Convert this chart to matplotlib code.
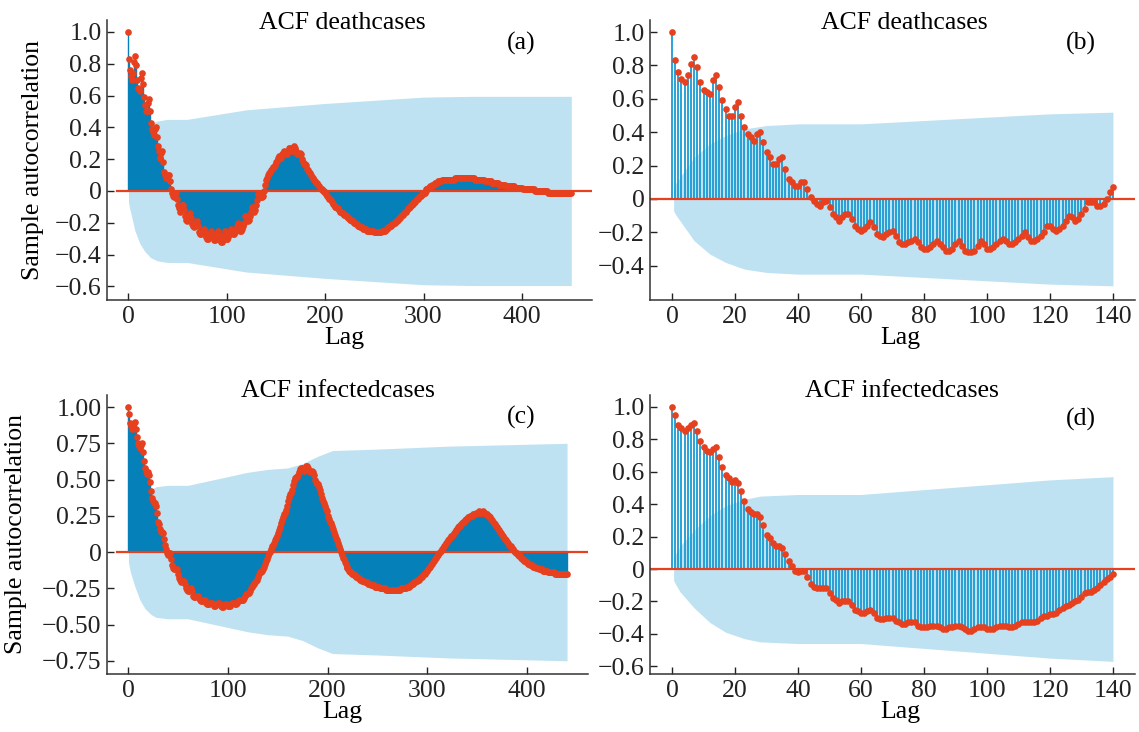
import numpy as np
import matplotlib.pyplot as plt
from matplotlib.ticker import FuncFormatter

plt.rcParams['font.family'] = ['Liberation Serif', 'DejaVu Serif']

# sample ACF of death cases, lags 0..450 (panel b shows lags 0..140)
death_acf = [
    1.00, 0.83, 0.76, 0.72, 0.70, 0.74, 0.81, 0.85, 0.79, 0.70,
    0.65, 0.64, 0.63, 0.71, 0.74, 0.67, 0.59, 0.54, 0.50, 0.50,
    0.55, 0.58, 0.50, 0.43, 0.39, 0.37, 0.35, 0.39, 0.40, 0.34,
    0.28, 0.25, 0.21, 0.21, 0.24, 0.25, 0.18, 0.12, 0.10, 0.08,
    0.08, 0.10, 0.10, 0.06, 0.01, -0.01, -0.03, -0.04, -0.02, -0.01,
    -0.05, -0.09, -0.11, -0.13, -0.11, -0.09, -0.09, -0.12, -0.16, -0.18,
    -0.19, -0.18, -0.16, -0.14, -0.17, -0.21, -0.22, -0.23, -0.21, -0.20,
    -0.19, -0.22, -0.26, -0.27, -0.27, -0.26, -0.25, -0.24, -0.26, -0.29,
    -0.30, -0.30, -0.29, -0.27, -0.25, -0.27, -0.29, -0.31, -0.31, -0.30,
    -0.27, -0.25, -0.28, -0.31, -0.32, -0.32, -0.31, -0.28, -0.25, -0.27,
    -0.30, -0.30, -0.29, -0.27, -0.25, -0.24, -0.25, -0.27, -0.27, -0.26,
    -0.24, -0.22, -0.20, -0.23, -0.25, -0.25, -0.24, -0.22, -0.20, -0.16,
    -0.16, -0.18, -0.19, -0.18, -0.16, -0.13, -0.10, -0.11, -0.13, -0.12,
    -0.09, -0.06, -0.02, -0.02, -0.02, -0.04, -0.04, -0.03, 0.00, 0.04,
    0.07, 0.08, 0.10, 0.11, 0.12, 0.13, 0.14, 0.15, 0.15, 0.16,
    0.18, 0.19, 0.21, 0.22, 0.21, 0.21, 0.23, 0.24, 0.25, 0.24,
    0.23, 0.23, 0.25, 0.27, 0.27, 0.26, 0.25, 0.25, 0.27, 0.28,
    0.27, 0.25, 0.23, 0.23, 0.23, 0.24, 0.23, 0.20, 0.18, 0.17,
    0.17, 0.16, 0.14, 0.13, 0.12, 0.11, 0.10, 0.09, 0.08, 0.07,
    0.06, 0.05, 0.05, 0.04, 0.03, 0.02, 0.01, 0.01, 0.00, 0.00,
    -0.01, -0.02, -0.03, -0.04, -0.05, -0.05, -0.06, -0.07, -0.08, -0.09,
    -0.10, -0.10, -0.11, -0.11, -0.12, -0.13, -0.13, -0.14, -0.14, -0.15,
    -0.15, -0.16, -0.16, -0.17, -0.17, -0.18, -0.18, -0.19, -0.19, -0.20,
    -0.20, -0.21, -0.21, -0.22, -0.22, -0.22, -0.23, -0.23, -0.23, -0.24,
    -0.24, -0.24, -0.24, -0.25, -0.25, -0.25, -0.25, -0.25, -0.25, -0.25,
    -0.26, -0.26, -0.26, -0.26, -0.26, -0.26, -0.26, -0.26, -0.25, -0.25,
    -0.25, -0.25, -0.24, -0.24, -0.23, -0.23, -0.22, -0.22, -0.21, -0.21,
    -0.20, -0.20, -0.19, -0.19, -0.18, -0.17, -0.17, -0.16, -0.15, -0.15,
    -0.14, -0.13, -0.13, -0.12, -0.11, -0.11, -0.10, -0.09, -0.09, -0.08,
    -0.07, -0.07, -0.06, -0.05, -0.05, -0.04, -0.03, -0.03, -0.02, -0.02,
    -0.01, -0.01, 0.00, 0.01, 0.01, 0.02, 0.02, 0.03, 0.03, 0.04,
    0.04, 0.04, 0.05, 0.05, 0.05, 0.06, 0.06, 0.06, 0.06, 0.07,
    0.07, 0.07, 0.07, 0.07, 0.07, 0.07, 0.07, 0.07, 0.07, 0.07,
    0.07, 0.07, 0.08, 0.08, 0.08, 0.08, 0.08, 0.08, 0.08, 0.08,
    0.08, 0.08, 0.08, 0.08, 0.08, 0.08, 0.08, 0.08, 0.08, 0.08,
    0.08, 0.08, 0.07, 0.07, 0.07, 0.07, 0.07, 0.07, 0.07, 0.07,
    0.07, 0.07, 0.06, 0.06, 0.06, 0.06, 0.06, 0.06, 0.06, 0.05,
    0.05, 0.05, 0.05, 0.05, 0.05, 0.05, 0.05, 0.04, 0.04, 0.04,
    0.04, 0.04, 0.04, 0.04, 0.03, 0.03, 0.03, 0.03, 0.03, 0.03,
    0.03, 0.03, 0.03, 0.02, 0.02, 0.02, 0.02, 0.02, 0.02, 0.02,
    0.02, 0.01, 0.01, 0.01, 0.01, 0.01, 0.01, 0.01, 0.01, 0.01,
    0.01, 0.01, 0.01, 0.00, 0.00, 0.00, 0.00, 0.00, 0.00, 0.00,
    0.00, 0.00, 0.00, 0.00, 0.00, 0.00, -0.01, -0.01, -0.01, -0.01,
    -0.01, -0.01, -0.01, -0.01, -0.01, -0.01, -0.01, -0.01, -0.01, -0.01,
    -0.01, -0.01, -0.01, -0.01, -0.01, -0.01, -0.01, -0.01, -0.01, -0.01,
    -0.01,
]

# sample ACF of infected cases, lags 0..440 (panel d shows lags 0..140)
infected_acf = [
    1.00, 0.95, 0.89, 0.87, 0.85, 0.87, 0.89, 0.90, 0.85, 0.79,
    0.75, 0.73, 0.72, 0.74, 0.75, 0.69, 0.63, 0.58, 0.56, 0.54,
    0.55, 0.53, 0.48, 0.42, 0.37, 0.35, 0.34, 0.34, 0.32, 0.27,
    0.21, 0.19, 0.16, 0.14, 0.14, 0.13, 0.09, 0.05, 0.02, -0.01,
    -0.02, -0.01, -0.01, -0.05, -0.09, -0.11, -0.12, -0.12, -0.12, -0.12,
    -0.15, -0.18, -0.19, -0.21, -0.20, -0.20, -0.20, -0.22, -0.25, -0.26,
    -0.27, -0.27, -0.26, -0.25, -0.27, -0.30, -0.31, -0.31, -0.30, -0.30,
    -0.30, -0.32, -0.33, -0.34, -0.34, -0.33, -0.33, -0.33, -0.35, -0.36,
    -0.36, -0.36, -0.35, -0.35, -0.35, -0.36, -0.37, -0.37, -0.36, -0.36,
    -0.35, -0.35, -0.36, -0.37, -0.38, -0.38, -0.37, -0.36, -0.36, -0.36,
    -0.37, -0.37, -0.37, -0.36, -0.35, -0.35, -0.35, -0.36, -0.36, -0.35,
    -0.34, -0.33, -0.33, -0.33, -0.33, -0.33, -0.32, -0.30, -0.29, -0.29,
    -0.28, -0.28, -0.27, -0.25, -0.24, -0.23, -0.22, -0.21, -0.20, -0.19,
    -0.17, -0.15, -0.14, -0.14, -0.13, -0.12, -0.10, -0.08, -0.06, -0.05,
    -0.03, -0.01, 0.00, 0.02, 0.04, 0.05, 0.06, 0.08, 0.10, 0.11,
    0.13, 0.15, 0.17, 0.20, 0.22, 0.24, 0.26, 0.27, 0.29, 0.32,
    0.35, 0.38, 0.40, 0.41, 0.43, 0.46, 0.49, 0.51, 0.52, 0.52,
    0.53, 0.55, 0.57, 0.58, 0.58, 0.57, 0.56, 0.57, 0.59, 0.59,
    0.58, 0.56, 0.55, 0.55, 0.56, 0.55, 0.53, 0.50, 0.48, 0.47,
    0.47, 0.45, 0.43, 0.40, 0.37, 0.35, 0.34, 0.32, 0.30, 0.28,
    0.25, 0.23, 0.21, 0.20, 0.18, 0.16, 0.14, 0.12, 0.10, 0.08,
    0.06, 0.04, 0.02, 0.00, -0.02, -0.04, -0.05, -0.07, -0.08, -0.10,
    -0.11, -0.12, -0.13, -0.14, -0.14, -0.15, -0.15, -0.16, -0.16, -0.17,
    -0.17, -0.18, -0.18, -0.19, -0.19, -0.20, -0.20, -0.20, -0.21, -0.21,
    -0.21, -0.22, -0.22, -0.22, -0.23, -0.23, -0.23, -0.23, -0.24, -0.24,
    -0.24, -0.24, -0.24, -0.25, -0.25, -0.25, -0.25, -0.25, -0.25, -0.26,
    -0.26, -0.26, -0.26, -0.26, -0.26, -0.26, -0.26, -0.26, -0.26, -0.26,
    -0.26, -0.26, -0.26, -0.26, -0.25, -0.25, -0.25, -0.25, -0.25, -0.25,
    -0.24, -0.24, -0.24, -0.23, -0.23, -0.22, -0.22, -0.21, -0.21, -0.20,
    -0.20, -0.19, -0.19, -0.18, -0.17, -0.17, -0.16, -0.15, -0.15, -0.14,
    -0.13, -0.12, -0.11, -0.10, -0.09, -0.08, -0.07, -0.06, -0.05, -0.04,
    -0.03, -0.02, -0.01, 0.00, 0.01, 0.02, 0.03, 0.04, 0.05, 0.06,
    0.07, 0.08, 0.09, 0.10, 0.11, 0.11, 0.12, 0.13, 0.14, 0.15,
    0.16, 0.17, 0.18, 0.18, 0.19, 0.20, 0.21, 0.21, 0.22, 0.23,
    0.23, 0.24, 0.24, 0.25, 0.25, 0.25, 0.26, 0.26, 0.26, 0.27,
    0.27, 0.27, 0.28, 0.27, 0.27, 0.27, 0.28, 0.27, 0.27, 0.26,
    0.26, 0.25, 0.25, 0.24, 0.23, 0.22, 0.21, 0.20, 0.19, 0.18,
    0.17, 0.16, 0.15, 0.14, 0.13, 0.12, 0.11, 0.10, 0.09, 0.08,
    0.07, 0.06, 0.05, 0.04, 0.04, 0.03, 0.02, 0.01, 0.00, -0.01,
    -0.01, -0.02, -0.03, -0.03, -0.04, -0.05, -0.05, -0.06, -0.06, -0.07,
    -0.07, -0.08, -0.08, -0.09, -0.09, -0.09, -0.10, -0.10, -0.10, -0.11,
    -0.11, -0.11, -0.12, -0.12, -0.12, -0.12, -0.13, -0.13, -0.13, -0.13,
    -0.13, -0.14, -0.14, -0.14, -0.14, -0.14, -0.14, -0.14, -0.15, -0.15,
    -0.15, -0.15, -0.15, -0.15, -0.15, -0.15, -0.15, -0.15, -0.15, -0.15,
    -0.15,
]

# confidence band half-width (read at a few lags)
death_band_lags = [0.5, 1, 2.5, 7, 12, 17, 23, 30, 40, 60, 80, 100, 120,
                   140, 160, 200, 250, 300, 350, 450]
death_band = [0.07, 0.09, 0.13, 0.25, 0.33, 0.38, 0.42, 0.44, 0.45, 0.45,
              0.47, 0.49, 0.51, 0.52, 0.53, 0.55, 0.57, 0.59, 0.595, 0.595]
infected_band_lags = [0.5, 1, 2.5, 7, 12, 17, 23, 28, 40, 60, 80, 100, 120,
                      140, 160, 175, 190, 205, 250, 320, 440]
infected_band = [0.07, 0.09, 0.14, 0.24, 0.33, 0.39, 0.43, 0.45, 0.46, 0.46,
                 0.49, 0.52, 0.55, 0.57, 0.58, 0.61, 0.66, 0.70, 0.71, 0.73,
                 0.75]

titles = ['ACF deathcases', 'ACF deathcases', 'ACF infectedcases', 'ACF infectedcases']
tags = ['(a)', '(b)', '(c)', '(d)']
max_lags = [450, 140, 440, 140]
xticks_list = [[0, 100, 200, 300, 400], list(range(0, 141, 20)),
               [0, 100, 200, 300, 400], list(range(0, 141, 20))]
yticks_list = [[-0.6, -0.4, -0.2, 0, 0.2, 0.4, 0.6, 0.8, 1.0],
               [-0.4, -0.2, 0, 0.2, 0.4, 0.6, 0.8, 1.0],
               [-0.75, -0.5, -0.25, 0, 0.25, 0.5, 0.75, 1.0],
               [-0.6, -0.4, -0.2, 0, 0.2, 0.4, 0.6, 0.8, 1.0]]

BAND = '#bfe2f2'
RED = '#e6401f'
FS = 18.5

W, H = 1139, 732
# panel boxes in pixels: left, top, right, bottom
boxes = [(107, 20, 592, 300), (650, 20, 1135, 300),
         (107, 395, 588, 674), (650, 395, 1135, 674)]
xlims = [(-21.3, 471), (-7, 147), (-21, 461), (-7, 147)]
ylims = [(-0.686, 1.075), (-0.605, 1.072), (-0.841, 1.083), (-0.648, 1.074)]
title_pos = [(0.485, 0.967), (0.525, 0.967), (0.48, 0.994), (0.519, 0.994)]
tag_pos = [(0.854, 0.893), (0.889, 0.893), (0.861, 0.899), (0.889, 0.892)]
ylabel_x = [-0.130, None, -0.166, None]
xlabel_y = [-0.095, -0.095, -0.097, -0.097]
zero_start = [-11, -7, -11, -7]


def fmt(decimals):
    def f(v, pos):
        if abs(v) < 1e-9:
            return '0'
        s = f'{v:.{decimals}f}'
        return s.replace('-', '\u2212')
    return FuncFormatter(f)


fig = plt.figure(figsize=(W / 100, H / 100), dpi=100)

for i in range(4):
    l, t, r, b = boxes[i]
    ax = fig.add_axes([l / W, 1 - b / H, (r - l) / W, (b - t) / H])
    acf = np.array(death_acf if i < 2 else infected_acf)[:max_lags[i] + 1]
    lags = np.arange(len(acf))
    bl = np.array(death_band_lags if i < 2 else infected_band_lags)
    bw = np.array(death_band if i < 2 else infected_band)
    keep = bl <= max_lags[i]
    bl, bw = bl[keep], bw[keep]

    ax.fill_between(bl, -bw, bw, color=BAND, lw=0, zorder=0)
    if max_lags[i] > 200:
        ax.vlines(lags, 0, acf, colors='#0580b8', lw=1.0, zorder=1)
        ms = 4.8
    else:
        ax.vlines(lags, 0, acf, colors='#1a9bd2', lw=1.3, zorder=1)
        ms = 4.8
    ax.set_xlim(*xlims[i])
    ax.set_ylim(*ylims[i])
    x0, x1 = xlims[i]
    ax.axhline(0, xmin=(zero_start[i] - x0) / (x1 - x0), xmax=1,
               color=RED, lw=1.6, zorder=2)
    ax.plot(lags, acf, 'o', color=RED, ms=ms, mec='none', zorder=3)

    ax.spines['top'].set_visible(False)
    ax.spines['right'].set_visible(False)
    for s in ('left', 'bottom'):
        ax.spines[s].set_color('#333333')
        ax.spines[s].set_linewidth(1.1)
    ax.set_xticks(xticks_list[i])
    ax.set_yticks(yticks_list[i])
    ax.yaxis.set_major_formatter(fmt(2 if i == 2 else 1))
    ax.tick_params(direction='in', length=5, width=1, labelsize=FS,
                   colors='#222222', pad=4)

    ax.text(title_pos[i][0], title_pos[i][1], titles[i], transform=ax.transAxes,
            ha='center', va='baseline', fontsize=FS)
    ax.text(tag_pos[i][0], tag_pos[i][1], tags[i], transform=ax.transAxes,
            ha='center', va='baseline', fontsize=FS)
    ax.set_xlabel('Lag', fontsize=FS)
    ax.xaxis.set_label_coords(0.49 if i % 2 == 0 else 0.517, xlabel_y[i])
    if ylabel_x[i] is not None:
        ax.set_ylabel('Sample autocorrelation', fontsize=FS)
        ax.yaxis.set_label_coords(ylabel_x[i], 0.5)

fig.savefig('out.png', dpi=100)
